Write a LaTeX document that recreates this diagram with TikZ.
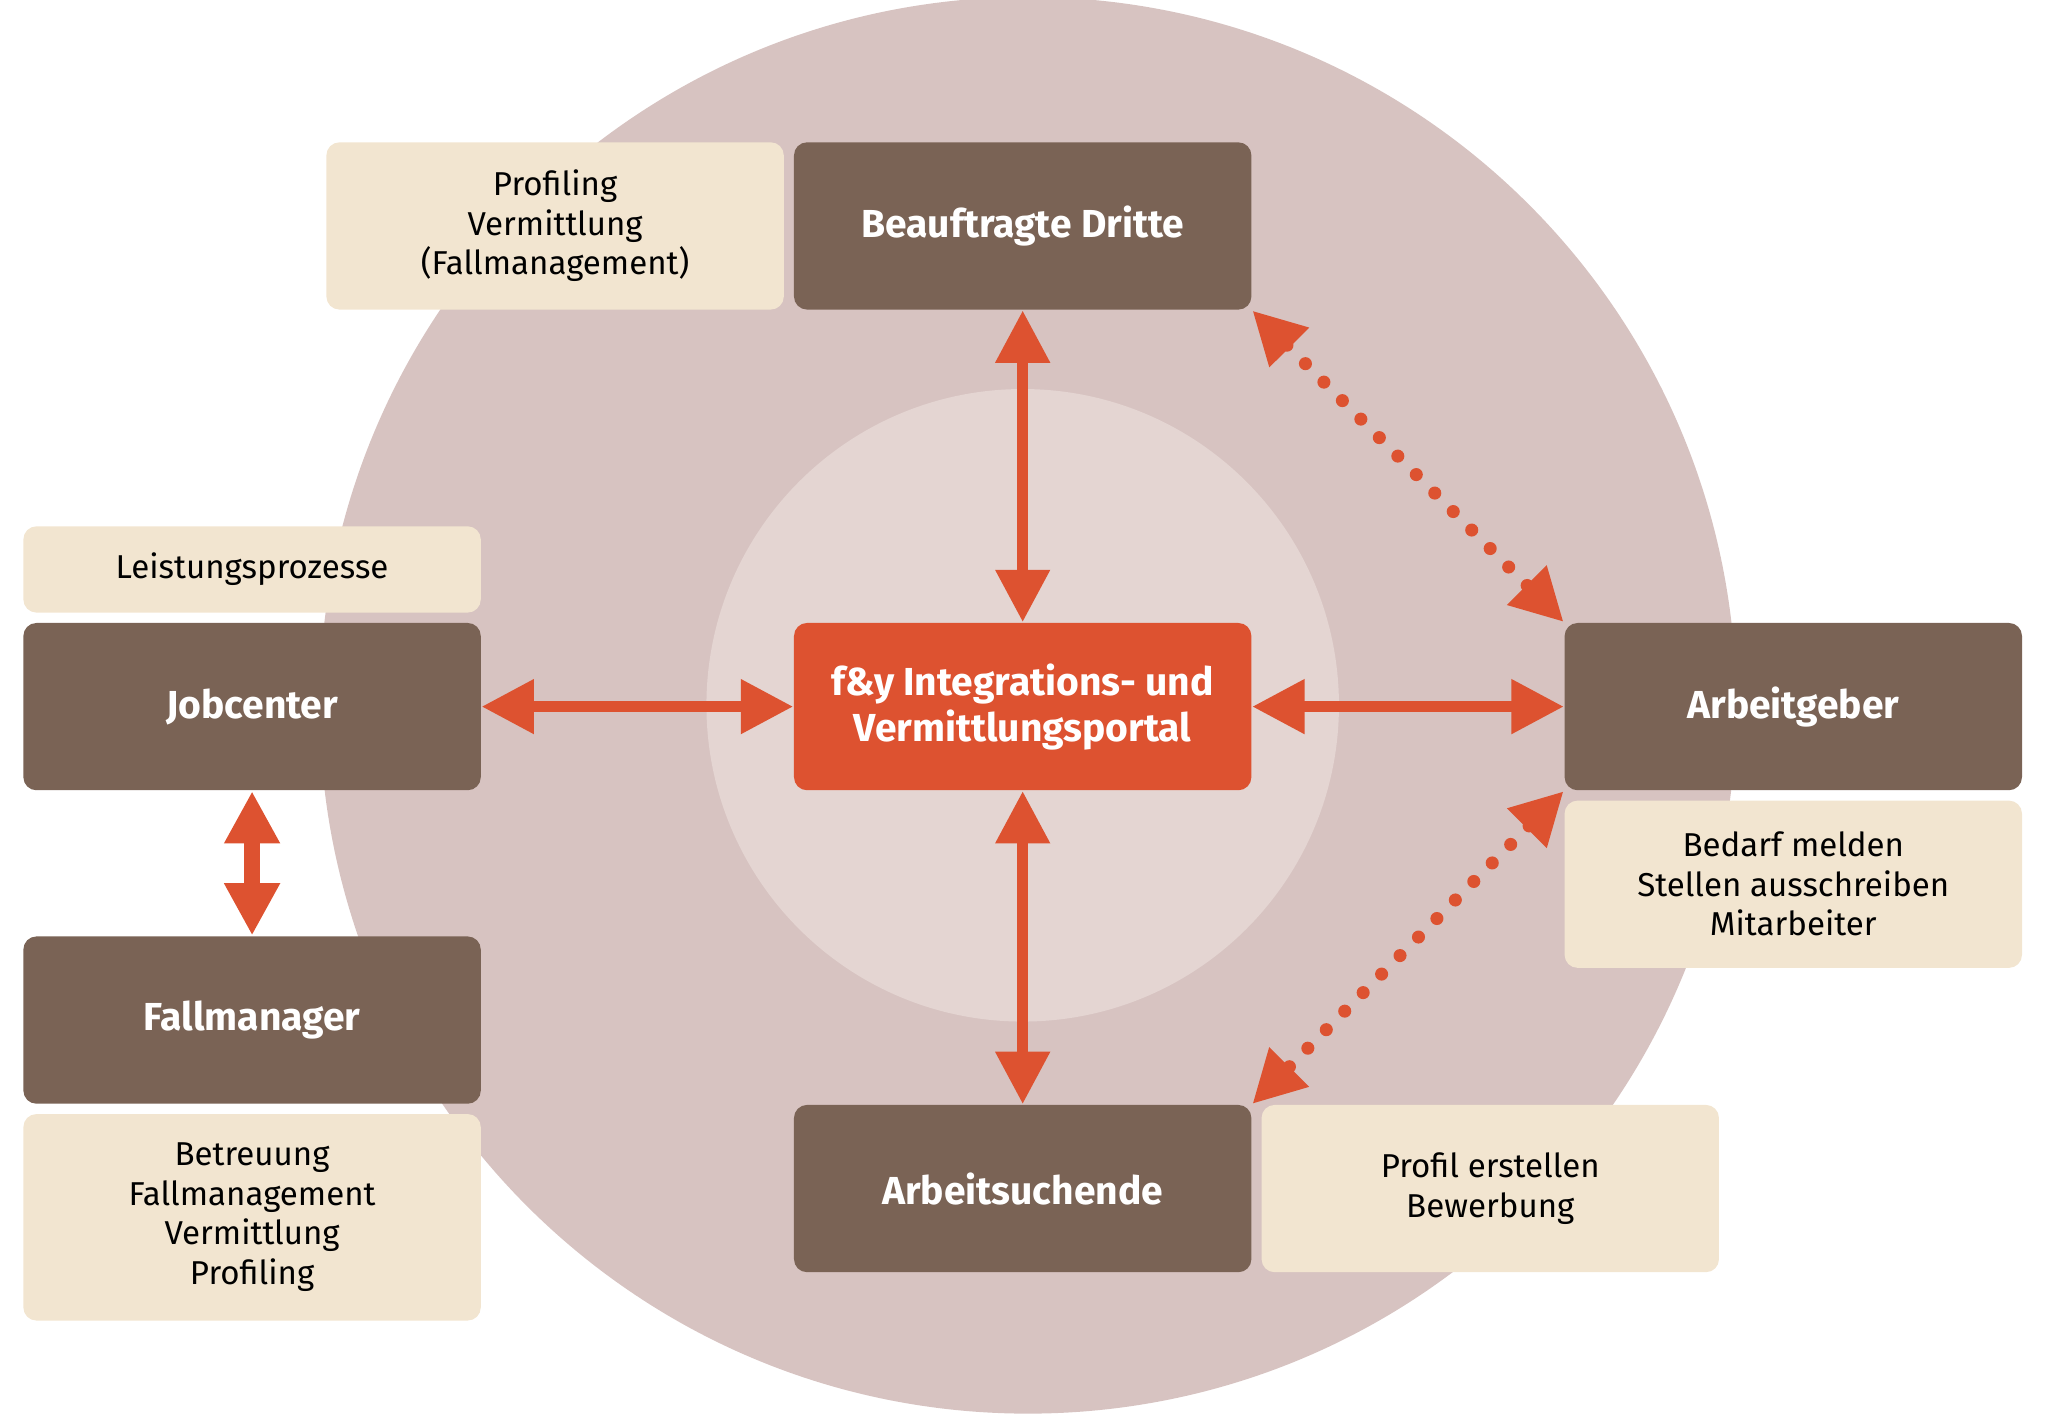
\documentclass[tikz,border=0pt]{standalone}
\usepackage{fontspec}
\setmainfont{Fira Sans}
\usetikzlibrary{arrows.meta}
\definecolor{dark}{HTML}{7A6355}
\definecolor{light}{HTML}{F2E5D0}
\definecolor{ora}{HTML}{DD5230}
\definecolor{outer}{HTML}{D7C3C1}
\definecolor{inner}{HTML}{E4D5D2}
\begin{document}
\begin{tikzpicture}[x=0.01cm,y=-0.01cm,
 dbox/.style={fill=dark,rounded corners=0.1cm,text=white,font=\bfseries\fontsize{8.5}{10}\selectfont,minimum width=3.5cm,minimum height=1.28cm,inner sep=0,align=center},
 lbox/.style={fill=light,rounded corners=0.1cm,text=black,font=\fontsize{7.2}{8.6}\selectfont,minimum width=3.5cm,inner sep=0,align=center},
 arr/.style={ora,line width=0.08cm,{Triangle[length=0.4cm,width=0.4cm]}-{Triangle[length=0.4cm,width=0.4cm]}},
 dot/.style={ora,line width=0.1cm,line cap=round,dash pattern=on 0pt off 0.2cm,{Triangle[length=0.4cm,width=0.4cm]}-{Triangle[length=0.4cm,width=0.4cm]}}]
\useasboundingbox (0,0) rectangle (1568,1085);
\fill[outer] (787,540) circle[radius=5.42cm];
\fill[inner] (783,540) circle[radius=2.42cm];
\node[dbox] (bd) at (783,173) {Beauftragte Dritte};
\node[dbox,fill=ora] (c) at (783,541) {f\&y Integrations- und\\Vermittlungsportal};
\node[dbox] (jc) at (193,541) {Jobcenter};
\node[dbox] (fm) at (193,781) {Fallmanager};
\node[dbox] (as) at (783,910) {Arbeitsuchende};
\node[dbox] (ag) at (1373,541) {Arbeitgeber};
\node[lbox,minimum height=1.28cm] (l1) at (425,173) {Profiling\\Vermittlung\\(Fallmanagement)};
\node[lbox,minimum height=0.66cm] (l2) at (193,436) {Leistungsprozesse};
\node[lbox,minimum height=1.58cm] (l3) at (193,932) {Betreuung\\Fallmanagement\\Vermittlung\\Profiling};
\node[lbox,minimum height=1.28cm] (l4) at (1373,677) {Bedarf melden\\Stellen ausschreiben\\Mitarbeiter};
\node[lbox,minimum height=1.28cm] (l5) at (1141,910) {Profil erstellen\\Bewerbung};
\draw[arr] (bd.south) -- (c.north);
\draw[arr] (c.south) -- (as.north);
\draw[arr] (jc.east) -- (c.west);
\draw[arr] (c.east) -- (ag.west);
\draw[arr,line width=0.12cm] (jc.south) -- (fm.north);
\draw[dot] (bd.south east) -- (ag.north west);
\draw[dot] (ag.south west) -- (as.north east);
\end{tikzpicture}
\end{document}
